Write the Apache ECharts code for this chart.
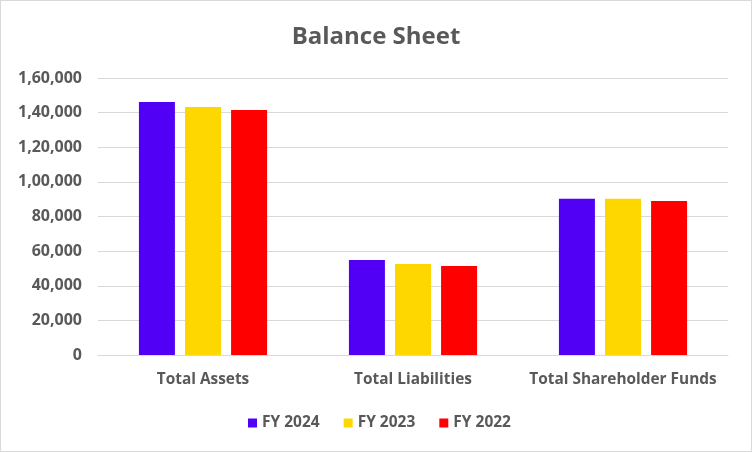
<!DOCTYPE html>
<html>
<head>
<meta charset="utf-8">
<script src="https://cdn.jsdelivr.net/npm/echarts@6/dist/echarts.min.js"></script>
<style>
html,body{margin:0;padding:0;background:#fff;}
#c{width:750px;height:450px;border:1px solid #d9d9d9;}
</style>
</head>
<body>
<div id="c"></div>
<script>
const categories = ['Total Assets', 'Total Liabilities', 'Total Shareholder Funds'];
const seriesNames = ['FY 2024', 'FY 2023', 'FY 2022'];
const fy2024 = [146200, 54900, 90200];
const fy2023 = [143300, 52600, 90200];
const fy2022 = [141500, 51400, 89000];
const colors = ['#5200F5', '#FFD700', '#FF0000'];

function inr(v) {
  const s = String(Math.round(v));
  if (s.length <= 3) return s;
  const last3 = s.slice(-3);
  let rest = s.slice(0, -3);
  const parts = [];
  while (rest.length > 2) { parts.unshift(rest.slice(-2)); rest = rest.slice(0, -2); }
  if (rest) parts.unshift(rest);
  return parts.join(',') + ',' + last3;
}

const font = '"Open Sans", "Noto Sans", sans-serif';
const chart = echarts.init(document.getElementById('c'));
const data = [fy2024, fy2023, fy2022];
chart.setOption({
  animation: false,
  color: colors,
  title: {
    text: 'Balance Sheet', left: 'center', top: 19,
    textStyle: { fontFamily: font, fontSize: 24, fontWeight: 'bold', color: '#595959' }
  },
  legend: {
    bottom: 15, left: 242, itemWidth: 9, itemHeight: 9, itemGap: 24, icon: 'rect',
    textStyle: { fontFamily: font, fontSize: 15.5, fontWeight: 'bold', color: '#595959' },
    data: seriesNames
  },
  grid: { left: 97, right: 23, top: 77, bottom: 96 },
  xAxis: {
    type: 'category', data: categories,
    axisLine: { lineStyle: { color: '#d9d9d9' } },
    axisTick: { show: false },
    axisLabel: { interval: 0, fontFamily: font, fontSize: 15.4, fontWeight: 'bold', color: '#595959', margin: 17 }
  },
  yAxis: {
    type: 'value', min: 0, max: 160000, interval: 20000,
    axisLine: { show: false }, axisTick: { show: false },
    splitLine: { lineStyle: { color: '#d9d9d9' } },
    axisLabel: { fontFamily: font, fontSize: 16, fontWeight: 'bold', color: '#595959', margin: 16, formatter: inr }
  },
  series: seriesNames.map((n, i) => ({
    name: n, type: 'bar', data: data[i], barWidth: 36, barGap: '28%'
  }))
});
</script>
</body>
</html>
